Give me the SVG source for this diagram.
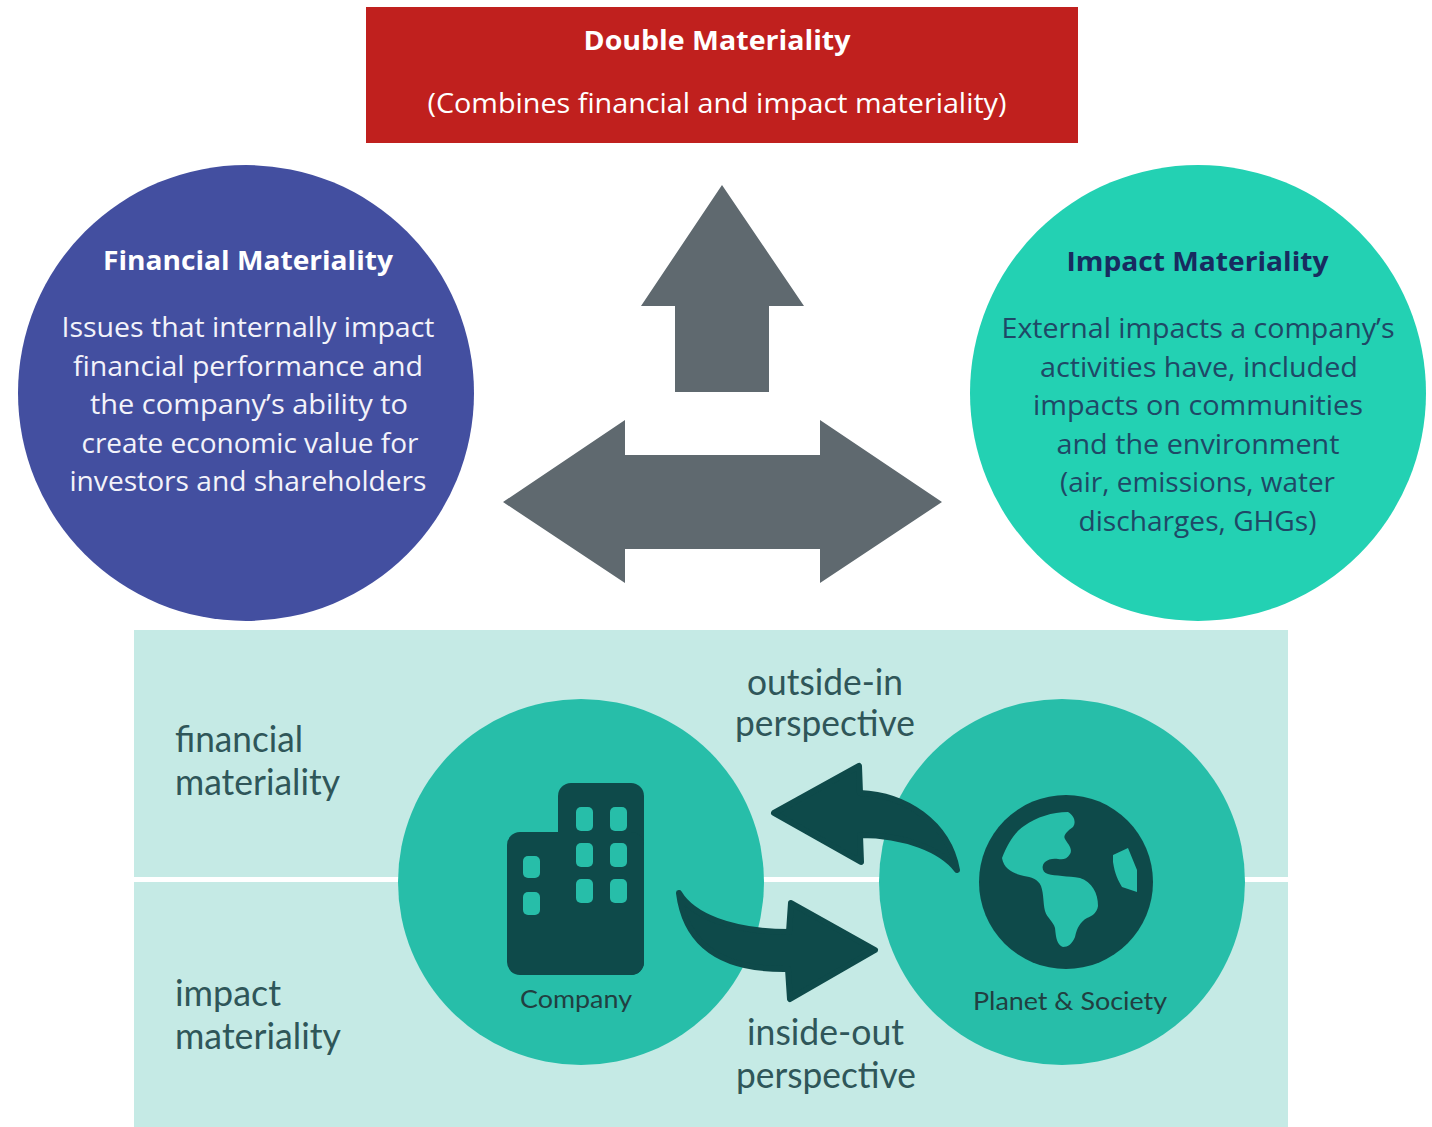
<svg xmlns="http://www.w3.org/2000/svg" width="1432" height="1127" viewBox="0 0 1432 1127">
<style>
.hum{font-family:"Open Sans","Noto Sans","Liberation Sans",sans-serif}
.lato{font-family:Lato,"Open Sans","Liberation Sans",sans-serif}
.wb{fill:#ffffff;font-weight:700;font-size:26px}
.wr{fill:#ffffff;font-size:27px}
.fbody{fill:#f3f3fa;font-size:27px}
.ftitle{fill:#ffffff;font-weight:700;font-size:27px}
.ititle{fill:#182b5f;font-weight:700;font-size:27px}
.ibody{fill:#1f4866;font-size:27px}
.lbl{fill:#2f5659;font-size:36px}
.icl{fill:#213f41;font-size:25px}
.gray{fill:#5f696f}
.dark{fill:#0e4a4a}
.dkj{fill:#0e4a4a;stroke:#0e4a4a;stroke-width:6;stroke-linejoin:round}
.win{fill:#27bea9}
</style>
<rect width="1432" height="1127" fill="#ffffff"/>

<g id="double-materiality">
<rect x="366" y="7" width="712" height="136" fill="#c0201e"/>
<text class="hum wb" x="717" y="50" text-anchor="middle" textLength="267" lengthAdjust="spacingAndGlyphs">Double Materiality</text>
<text class="hum wr" x="717" y="113" text-anchor="middle" textLength="579" lengthAdjust="spacingAndGlyphs">(Combines financial and impact materiality)</text>
</g>

<g id="financial-materiality">
<circle cx="246" cy="393" r="228" fill="#434fa0"/>
<text class="hum ftitle" x="248" y="270" text-anchor="middle" textLength="290" lengthAdjust="spacingAndGlyphs">Financial Materiality</text>
<text class="hum fbody" x="248" y="337" text-anchor="middle" textLength="373" lengthAdjust="spacingAndGlyphs">Issues that internally impact</text>
<text class="hum fbody" x="248" y="375.5" text-anchor="middle" textLength="350" lengthAdjust="spacingAndGlyphs">financial performance and</text>
<text class="hum fbody" x="249" y="414" text-anchor="middle" textLength="318" lengthAdjust="spacingAndGlyphs">the company’s ability to</text>
<text class="hum fbody" x="250" y="452.5" text-anchor="middle" textLength="337" lengthAdjust="spacingAndGlyphs">create economic value for</text>
<text class="hum fbody" x="248" y="491" text-anchor="middle" textLength="357" lengthAdjust="spacingAndGlyphs">investors and shareholders</text>
</g>

<g id="impact-materiality">
<circle cx="1198" cy="393" r="228" fill="#23d1b3"/>
<text class="hum ititle" x="1197.5" y="271" text-anchor="middle" textLength="262" lengthAdjust="spacingAndGlyphs">Impact Materiality</text>
<text class="hum ibody" x="1198" y="338" text-anchor="middle" textLength="393" lengthAdjust="spacingAndGlyphs">External impacts a company’s</text>
<text class="hum ibody" x="1199" y="376.5" text-anchor="middle" textLength="318" lengthAdjust="spacingAndGlyphs">activities have, included</text>
<text class="hum ibody" x="1198" y="415" text-anchor="middle" textLength="330" lengthAdjust="spacingAndGlyphs">impacts on communities</text>
<text class="hum ibody" x="1198" y="453.5" text-anchor="middle" textLength="283" lengthAdjust="spacingAndGlyphs">and the environment</text>
<text class="hum ibody" x="1197.5" y="492" text-anchor="middle" textLength="275" lengthAdjust="spacingAndGlyphs">(air, emissions, water</text>
<text class="hum ibody" x="1197.5" y="530.5" text-anchor="middle" textLength="238" lengthAdjust="spacingAndGlyphs">discharges, GHGs)</text>
</g>

<g id="bottom-panel">
<rect x="134" y="630" width="1154" height="497" fill="#c5eae5"/>
<rect x="134" y="877" width="1154" height="5" fill="#ffffff"/>
<text class="lato lbl" x="175" y="752" textLength="128" lengthAdjust="spacingAndGlyphs">financial</text>
<text class="lato lbl" x="175" y="795" textLength="165" lengthAdjust="spacingAndGlyphs">materiality</text>
<text class="lato lbl" x="175" y="1006" textLength="106" lengthAdjust="spacingAndGlyphs">impact</text>
<text class="lato lbl" x="175" y="1049" textLength="166" lengthAdjust="spacingAndGlyphs">materiality</text>
<text class="lato lbl" x="825" y="695" text-anchor="middle" textLength="156" lengthAdjust="spacingAndGlyphs">outside-in</text>
<text class="lato lbl" x="825" y="736" text-anchor="middle" textLength="180" lengthAdjust="spacingAndGlyphs">perspective</text>
<text class="lato lbl" x="825.5" y="1045" text-anchor="middle" textLength="157" lengthAdjust="spacingAndGlyphs">inside-out</text>
<text class="lato lbl" x="826" y="1088" text-anchor="middle" textLength="180" lengthAdjust="spacingAndGlyphs">perspective</text>
</g>

<g id="company">
<circle cx="581" cy="882" r="183" fill="#27bea9"/>
<rect class="dark" x="558" y="783" width="86" height="192" rx="13"/>
<rect class="dark" x="507" y="832" width="137" height="143" rx="13"/>
<rect class="win" x="523" y="856" width="17" height="22" rx="5"/>
<rect class="win" x="523" y="892" width="17" height="23" rx="5"/>
<rect class="win" x="576" y="807" width="17" height="24" rx="5"/>
<rect class="win" x="610" y="807" width="17" height="24" rx="5"/>
<rect class="win" x="576" y="843" width="17" height="24" rx="5"/>
<rect class="win" x="610" y="843" width="17" height="24" rx="5"/>
<rect class="win" x="576" y="879" width="17" height="24" rx="5"/>
<rect class="win" x="610" y="879" width="17" height="24" rx="5"/>
<text class="lato icl" x="576" y="1008" text-anchor="middle" textLength="112" lengthAdjust="spacingAndGlyphs">Company</text>
</g>

<g id="planet-society">
<circle cx="1062" cy="882" r="183" fill="#27bea9"/>
<circle class="dark" cx="1066" cy="882" r="87"/>
<path class="win" d="M1002,858 C1008,843 1015,832 1024,826 C1037,817 1052,812 1068,812 C1075,816 1076,823 1073,827 C1066,832 1063,836 1065,839 C1068,844 1073,849 1070,854 C1067,859 1063,860 1058,859 C1054,858 1048,859 1045,862 C1041,866 1042,872 1048,874 C1055,876 1068,876 1080,878 C1092,882 1098,893 1098,906 C1097,913 1092,916 1087,918 C1080,922 1077,928 1075,937 C1072,944 1068,947 1063,947 C1057,945 1056,938 1055,928 C1053,921 1047,918 1045,911 C1043,903 1044,895 1041,886 C1038,879 1031,877 1024,876 C1015,874 1004,870 1002,858 Z"/>
<path class="win" d="M1113,855 L1128,848 L1137,870 L1137,892 L1122,887 C1118,880 1115,875 1113,862 Z"/>
<text class="lato icl" x="1070" y="1010" text-anchor="middle" textLength="194" lengthAdjust="spacingAndGlyphs">Planet &amp; Society</text>
</g>

<g id="connectors">
<path class="gray" d="M722,185 L804,306 L769,306 L769,392 L675,392 L675,306 L641,306 Z"/>
<path class="gray" d="M503,502 L625,420 L625,455 L820,455 L820,420 L942,502 L820,583 L820,549 L625,549 L625,583 Z"/>
<path class="dkj" d="M774,813 L859,766 L860,793 C905,795 948,822 957,870 C942,850 905,835 860,835 L861,862 Z"/>
<path class="dkj" d="M679,893 C692,915 730,932 789,932 L791,903 L875,950 L790,999 L788,969 C725,970 686,948 679,893 Z"/>
</g>
</svg>
